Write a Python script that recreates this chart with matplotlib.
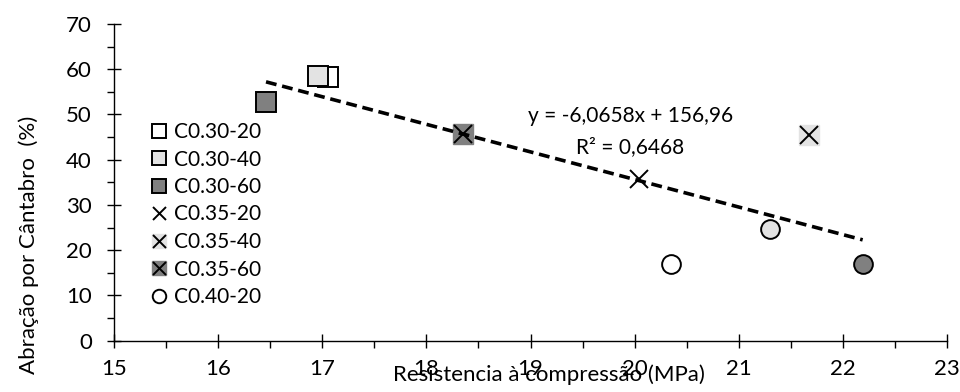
import numpy as np
import matplotlib.pyplot as plt
from matplotlib.ticker import MultipleLocator

plt.rcParams['font.family'] = ['Lato', 'DejaVu Sans']

# dados
mixes = ['C0.30-20', 'C0.30-40', 'C0.30-60',
         'C0.35-20', 'C0.35-40', 'C0.35-60',
         'C0.40-20', 'C0.40-40', 'C0.40-60']
resistencia = [17.06, 16.96, 16.46, 20.04, 21.67, 18.35, 20.35, 21.30, 22.19]
abrasao = [58.3, 58.6, 52.8, 35.7, 45.4, 45.7, 16.9, 24.7, 16.9]
in_legend = [True, True, True, True, True, True, True, False, False]

eq_text = 'y = -6,0658x + 156,96'
r2_text = 'R² = 0,6468'

marker_of = {'0.30': 's', '0.35': 'x', '0.40': 'o'}
fill_of = {'20': '#ffffff', '40': '#e3e3e3', '60': '#808080'}

fig = plt.figure(figsize=(9.6, 3.92), dpi=100)
ax = fig.add_axes([114 / 960, 1 - 340.7 / 392, 833 / 960, 316.7 / 392])

handles = []
labels = []
for name, xv, yv, leg in zip(mixes, resistencia, abrasao, in_legend):
    ac = name[1:5]
    cure = name.split('-')[1]
    mk = marker_of[ac]
    fc = fill_of[cure]
    if mk == 'x':
        h = []
        if cure != '20':
            h.append(ax.plot([xv], [yv], 's', ms=14, mfc=fc, mec=fc, zorder=2)[0])
        h.append(ax.plot([xv], [yv], 'x', ms=13, mec='black', mew=1.4, zorder=2)[0])
        h = tuple(h)
    else:
        h = ax.plot([xv], [yv], mk, ms=14 if mk == 's' else 13.5, mfc=fc,
                    mec='black', mew=1.4, zorder=2)[0]
    if leg:
        handles.append(h)
        labels.append(name)

# linha de tendencia linear
coef = np.polyfit(resistencia, abrasao, 1)
xs = np.array([min(resistencia), max(resistencia)])
ax.plot(xs, np.polyval(coef, xs), color='black', lw=2.6,
        linestyle=(0, (3, 1.6)), zorder=3)

ax.text(19.96, 49.6, eq_text, ha='center', va='center', fontsize=15)
ax.text(19.96, 42.9, r2_text, ha='center', va='center', fontsize=15)

ax.set_xlim(15, 23)
ax.set_ylim(0, 70)
ax.xaxis.set_major_locator(MultipleLocator(1))
ax.xaxis.set_minor_locator(MultipleLocator(0.5))
ax.yaxis.set_major_locator(MultipleLocator(10))
ax.yaxis.set_minor_locator(MultipleLocator(5))
ax.spines['top'].set_visible(False)
ax.spines['right'].set_visible(False)
for s in ['left', 'bottom']:
    ax.spines[s].set_linewidth(1.0)
ax.tick_params(which='major', direction='inout', length=10, width=1.0,
               labelsize=16, pad=8)
ax.tick_params(which='minor', direction='out', length=5, width=1.0)
ax.tick_params(axis='y', which='major', pad=11)

ax.set_xlabel('Resistencia à compressão (MPa)', fontsize=16)
ax.xaxis.set_label_coords(0.522, -0.108)
ax.xaxis.label.set_verticalalignment('center')
ax.set_ylabel('Abração por Cântabro  (%)', fontsize=16)
ax.yaxis.set_label_coords(-0.102, 0.302)
ax.yaxis.label.set_verticalalignment('center')

leg = ax.legend(handles, labels, loc='upper left',
                bbox_to_anchor=(149.6 / 960, 1 - 122 / 392),
                bbox_transform=fig.transFigure, frameon=False, fontsize=15,
                markerscale=0.72, handlelength=0.95, handletextpad=0.2,
                labelspacing=0.36, borderpad=0, borderaxespad=0)

fig.savefig('out.png', dpi=100)
